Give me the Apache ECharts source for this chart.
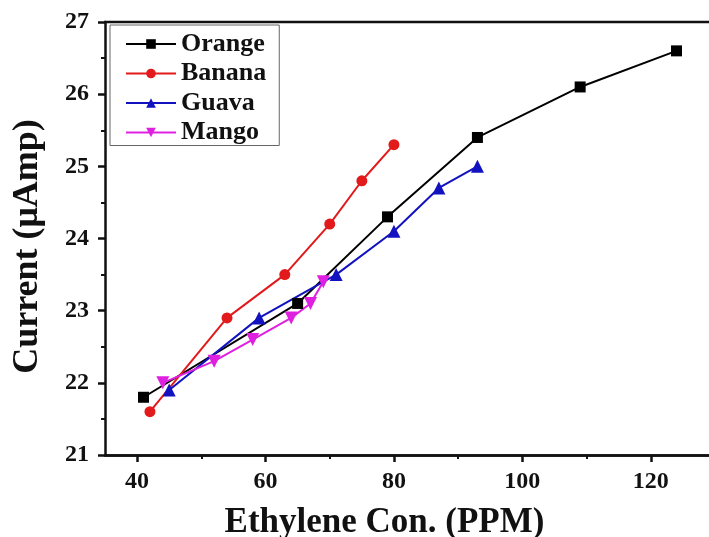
<!DOCTYPE html>
<html>
<head>
<meta charset="utf-8">
<script src="https://cdn.jsdelivr.net/npm/echarts@6/dist/echarts.min.js"></script>
<style>
  html, body { margin: 0; padding: 0; background: #fff; }
  #chart { width: 709px; height: 537px; }
</style>
</head>
<body>
<div id="chart"></div>
<script>
// Sensor current versus ethylene concentration for four fruits
const orangePPM = [41, 65, 79, 93, 109, 124];
const orangeCurrent = [21.8, 23.1, 24.3, 25.4, 26.1, 26.6];

const bananaPPM = [42, 54, 63, 70, 75, 80];
const bananaCurrent = [21.6, 22.9, 23.5, 24.2, 24.8, 25.3];

const guavaPPM = [45, 59, 71, 80, 87, 93];
const guavaCurrent = [21.9, 22.9, 23.5, 24.1, 24.7, 25.0];

const mangoPPM = [44, 52, 58, 64, 67, 69];
const mangoCurrent = [22.0, 22.3, 22.6, 22.9, 23.1, 23.4];

const seriesNames = ['Orange', 'Banana', 'Guava', 'Mango'];
const xMajorTicks = [40, 60, 80, 100, 120];
const xMinorTicks = [50, 70, 90, 110, 130];

function pairs(xs, ys) {
  return xs.map((x, i) => [x, ys[i]]);
}

const font = 'Liberation Serif, Times New Roman, serif';
const ink = '#111';
const chart = echarts.init(document.getElementById('chart'), null, { renderer: 'canvas' });

const common = {
  type: 'line',
  xAxisIndex: 0,
  lineStyle: { width: 2 },
  showSymbol: true,
  animation: false
};

chart.setOption({
  backgroundColor: '#ffffff',
  animation: false,
  grid: {
    left: 105, right: -6, top: 22, bottom: 82,
    containLabel: false,
    outerBoundsMode: 'none'
  },
  legend: {
    orient: 'vertical',
    left: 110,
    top: 25,
    padding: [6, 13, 0, 15],
    itemGap: 3.5,
    itemWidth: 50,
    itemHeight: 12,
    borderColor: '#666',
    borderWidth: 1,
    data: seriesNames,
    textStyle: { fontFamily: font, fontWeight: 'bold', fontSize: 26, color: ink }
  },
  xAxis: [
    {
      type: 'value',
      min: 35,
      max: 130,
      axisLine: { show: true, onZero: false, lineStyle: { color: ink, width: 2.5 } },
      axisTick: { show: true, inside: false, length: 7, customValues: xMajorTicks, lineStyle: { width: 2.5, color: ink } },
      splitLine: { show: false },
      axisLabel: {
        margin: 15,
        customValues: xMajorTicks,
        fontFamily: font, fontWeight: 'bold', fontSize: 24, color: ink
      },
      name: 'Ethylene Con. (PPM)',
      nameLocation: 'middle',
      nameGap: 50,
      nameTextStyle: { fontFamily: font, fontWeight: 'bold', fontSize: 35, color: ink, padding: [0, 51, 0, 0] }
    },
    {
      // minor ticks between the labelled ones
      type: 'value',
      position: 'bottom',
      offset: 0,
      min: 35,
      max: 130,
      axisLine: { show: true, onZero: false, lineStyle: { color: ink, width: 2.5 } },
      axisTick: { show: true, inside: false, length: 4, customValues: xMinorTicks, lineStyle: { width: 2, color: ink } },
      axisLabel: { show: true, customValues: xMinorTicks, formatter: () => '' },
      splitLine: { show: false }
    }
  ],
  yAxis: {
    type: 'value',
    min: 21,
    max: 27,
    interval: 1,
    axisLine: { show: true, onZero: false, lineStyle: { color: ink, width: 2.5 } },
    axisTick: { show: true, inside: false, length: 7, lineStyle: { width: 2.5, color: ink } },
    minorTick: { show: true, splitNumber: 2, length: 4, lineStyle: { width: 2, color: ink } },
    splitLine: { show: false },
    axisLabel: { margin: 16, fontFamily: font, fontWeight: 'bold', fontSize: 24, color: ink },
    name: 'Current (\u03bcAmp)',
    nameLocation: 'middle',
    nameGap: 59,
    nameTextStyle: { fontFamily: font, fontWeight: 'bold', fontSize: 36, color: ink, padding: [0, 16, 0, 0] }
  },
  series: [
    Object.assign({}, common, {
      name: 'Orange', data: pairs(orangePPM, orangeCurrent),
      color: '#000000', symbol: 'rect', symbolSize: 11
    }),
    Object.assign({}, common, {
      name: 'Banana', data: pairs(bananaPPM, bananaCurrent),
      color: '#e31a1c', symbol: 'circle', symbolSize: 11
    }),
    Object.assign({}, common, {
      name: 'Guava', data: pairs(guavaPPM, guavaCurrent),
      color: '#1212c0', symbol: 'triangle', symbolSize: 13
    }),
    Object.assign({}, common, {
      name: 'Mango', data: pairs(mangoPPM, mangoCurrent),
      color: '#e020e0', symbol: 'triangle', symbolRotate: 180, symbolSize: 13
    })
  ],
  graphic: [
    {
      // top border of the frame
      type: 'line',
      shape: { x1: 104, y1: 22, x2: 709, y2: 22 },
      style: { stroke: ink, lineWidth: 2.5 },
      silent: true
    }
  ]
});
</script>
</body>
</html>
